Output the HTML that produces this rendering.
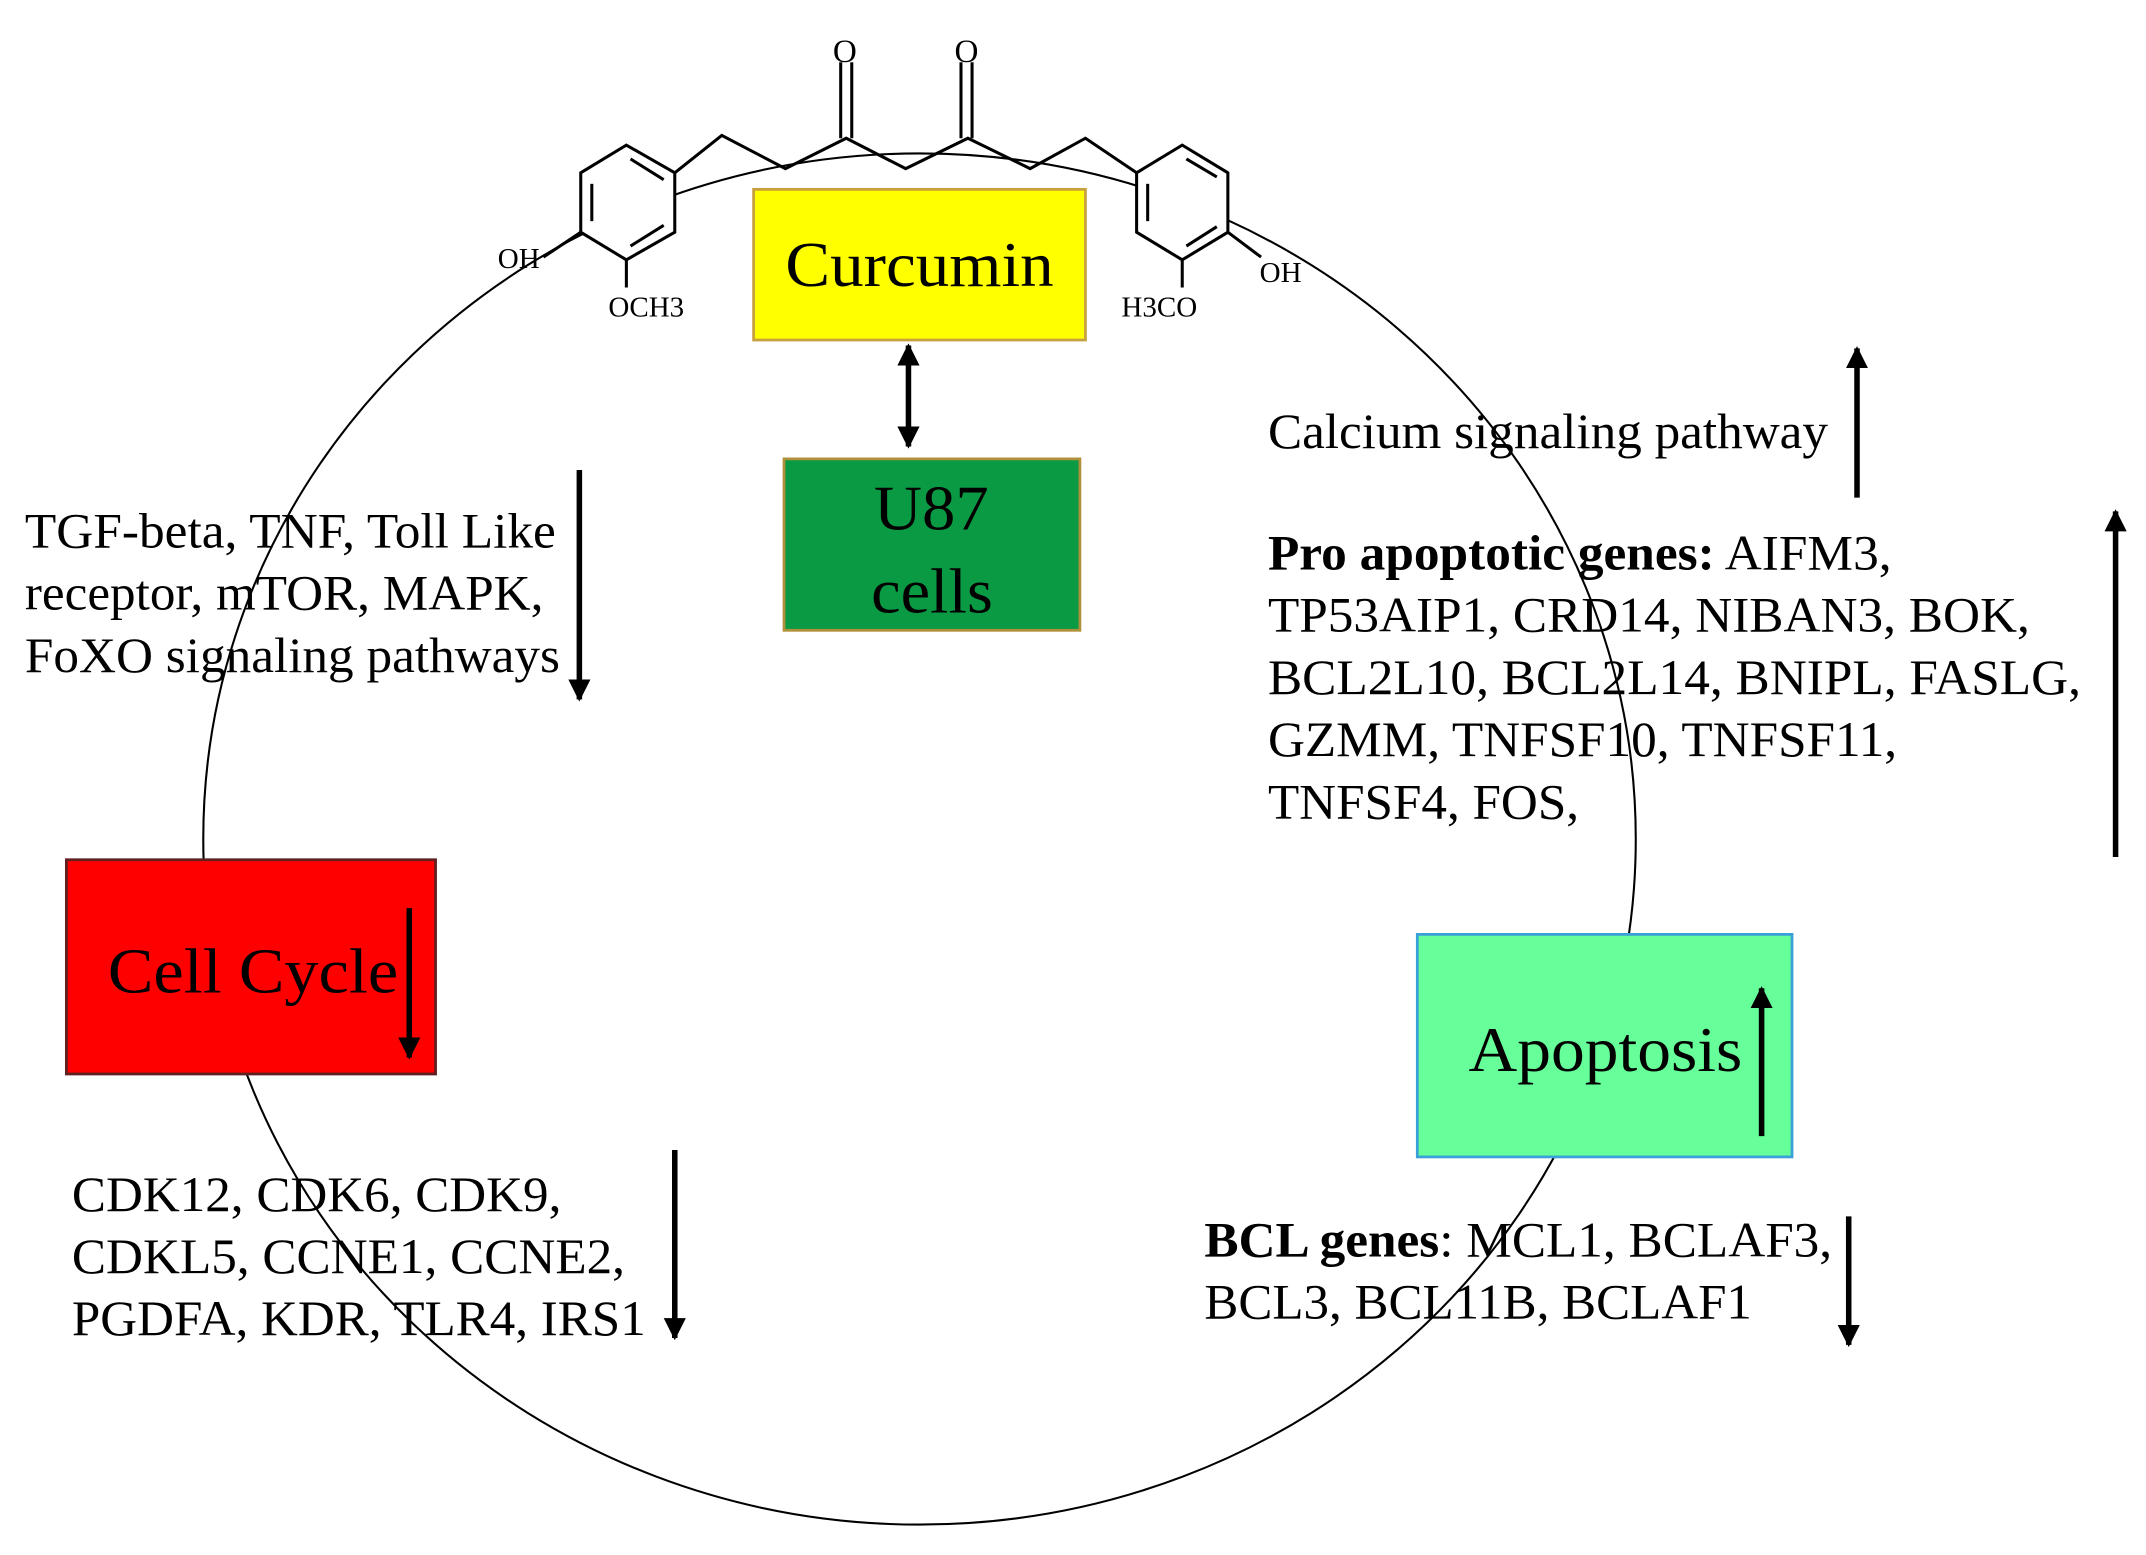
<!DOCTYPE html>
<html><head><meta charset="utf-8"><style>
html,body{margin:0;padding:0;background:#fff;}
svg{display:block;}
text{font-family:"Liberation Serif",serif;fill:#000;}
</style></head><body>
<svg width="2146" height="1555" viewBox="0 0 1552 1125" preserveAspectRatio="none" xmlns="http://www.w3.org/2000/svg">
<defs>
<marker id="ah" viewBox="0 0 10 10" refX="9" refY="5" markerWidth="4" markerHeight="4" orient="auto-start-reverse"><path d="M0,0 L10,5 L0,10 z" fill="#000"/></marker>
</defs>
<rect width="1552" height="1125" fill="#fff"/>
<ellipse cx="665" cy="607" rx="518" ry="496" fill="none" stroke="#000" stroke-width="1.5"/>

<!-- molecule -->
<g fill="none" stroke="#000" stroke-width="2.2">
<polygon points="453,105 488,125 488,168 453,188 420,168 420,125" fill="#fff"/>
<line x1="428" y1="133" x2="428" y2="160"/><line x1="456" y1="115" x2="480" y2="130"/><line x1="456" y1="178" x2="480" y2="163"/>
<polyline points="488,125 522,98 568,122 612,100 655,122 700,100 745,122 785,100 822,125"/>
<line x1="608" y1="45" x2="608" y2="100"/><line x1="616" y1="45" x2="616" y2="100"/>
<line x1="695" y1="45" x2="695" y2="100"/><line x1="703" y1="45" x2="703" y2="100"/>
<polygon points="822,125 855,105 888,125 888,168 855,188 822,168" fill="#fff"/>
<line x1="830" y1="133" x2="830" y2="160"/><line x1="858" y1="115" x2="880" y2="128"/><line x1="858" y1="178" x2="880" y2="164"/>
<line x1="453" y1="188" x2="453" y2="208"/>
<line x1="420" y1="168" x2="393" y2="186"/>
<line x1="855" y1="188" x2="855" y2="208"/>
<line x1="888" y1="168" x2="912" y2="186"/>
</g>
<text x="611" y="45" font-size="24" text-anchor="middle">O</text>
<text x="699" y="45" font-size="24" text-anchor="middle">O</text>
<text x="360" y="194" font-size="21">OH</text>
<text x="440" y="229" font-size="21">OCH3</text>
<text x="811" y="229" font-size="21">H3CO</text>
<text x="911" y="204" font-size="21">OH</text>

<!-- boxes -->
<rect x="545" y="137" width="240" height="109" fill="#ffff00" stroke="#c8a040" stroke-width="2"/>
<text x="568" y="207" font-size="46" textLength="194" lengthAdjust="spacingAndGlyphs">Curcumin</text>
<line x1="657" y1="250" x2="657" y2="323" stroke="#000" stroke-width="4" marker-start="url(#ah)" marker-end="url(#ah)"/>
<rect x="567" y="332" width="214" height="124" fill="#0a9a44" stroke="#b0903a" stroke-width="2"/>
<text x="632" y="383" font-size="46" textLength="83" lengthAdjust="spacingAndGlyphs">U87</text>
<text x="630" y="443" font-size="46" textLength="88" lengthAdjust="spacingAndGlyphs">cells</text>
<rect x="48" y="622" width="267" height="155" fill="#ff0000" stroke="#602020" stroke-width="2"/>
<text x="78" y="718" font-size="46" textLength="210" lengthAdjust="spacingAndGlyphs">Cell Cycle</text>
<line x1="296" y1="657" x2="296" y2="765" stroke="#000" stroke-width="4" marker-end="url(#ah)"/>
<rect x="1025" y="676" width="271" height="161" fill="#66ff99" stroke="#3aa0d8" stroke-width="2"/>
<text x="1062" y="775" font-size="46" textLength="198" lengthAdjust="spacingAndGlyphs">Apoptosis</text>
<line x1="1274" y1="822" x2="1274" y2="715" stroke="#000" stroke-width="4" marker-end="url(#ah)"/>

<!-- text blocks -->
<g font-size="36">
<text x="18" y="396" textLength="384" lengthAdjust="spacingAndGlyphs">TGF-beta, TNF, Toll Like</text>
<text x="18" y="441" textLength="375" lengthAdjust="spacingAndGlyphs">receptor, mTOR, MAPK,</text>
<text x="18" y="486" textLength="387" lengthAdjust="spacingAndGlyphs">FoXO signaling pathways</text>
<text x="917" y="324" textLength="405" lengthAdjust="spacingAndGlyphs">Calcium signaling pathway</text>
<text x="917" y="412" textLength="451" lengthAdjust="spacingAndGlyphs"><tspan font-weight="bold">Pro apoptotic genes:</tspan> AIFM3,</text>
<text x="917" y="457" textLength="551" lengthAdjust="spacingAndGlyphs">TP53AIP1, CRD14, NIBAN3, BOK,</text>
<text x="917" y="502" textLength="588" lengthAdjust="spacingAndGlyphs">BCL2L10, BCL2L14, BNIPL, FASLG,</text>
<text x="917" y="547" textLength="455" lengthAdjust="spacingAndGlyphs">GZMM, TNFSF10, TNFSF11,</text>
<text x="917" y="592" textLength="225" lengthAdjust="spacingAndGlyphs">TNFSF4, FOS,</text>
<text x="52" y="876" textLength="354" lengthAdjust="spacingAndGlyphs">CDK12, CDK6, CDK9,</text>
<text x="52" y="921" textLength="400" lengthAdjust="spacingAndGlyphs">CDKL5, CCNE1, CCNE2,</text>
<text x="52" y="966" textLength="415" lengthAdjust="spacingAndGlyphs">PGDFA, KDR, TLR4, IRS1</text>
<text x="871" y="909" textLength="454" lengthAdjust="spacingAndGlyphs"><tspan font-weight="bold">BCL genes</tspan>: MCL1, BCLAF3,</text>
<text x="871" y="954" textLength="396" lengthAdjust="spacingAndGlyphs">BCL3, BCL11B, BCLAF1</text>
</g>

<!-- arrows -->
<g stroke="#000" stroke-width="4">
<line x1="419" y1="340" x2="419" y2="506" marker-end="url(#ah)"/>
<line x1="1343" y1="360" x2="1343" y2="252" marker-end="url(#ah)"/>
<line x1="1530" y1="620" x2="1530" y2="370" marker-end="url(#ah)"/>
<line x1="488" y1="832" x2="488" y2="968" marker-end="url(#ah)"/>
<line x1="1337" y1="880" x2="1337" y2="973" marker-end="url(#ah)"/>
</g>
</svg>
</body></html>
